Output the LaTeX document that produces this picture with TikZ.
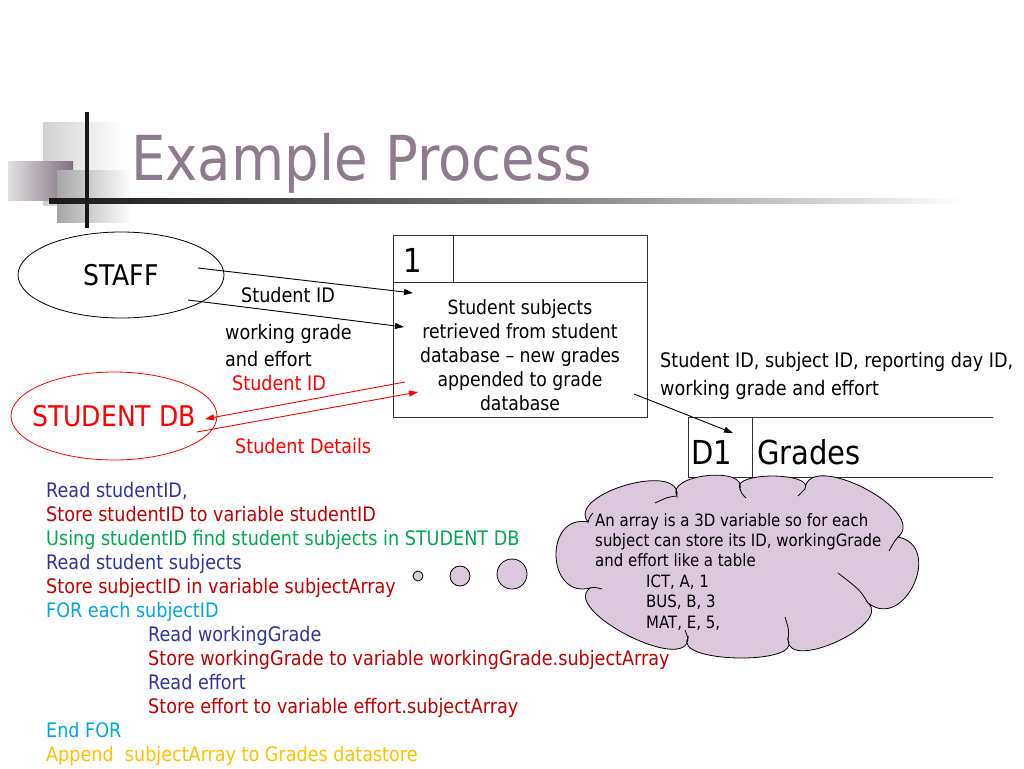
\documentclass[tikz,border=0pt]{standalone}
\usepackage{fontspec}
\setmainfont{DejaVu Sans}[FakeStretch=0.88]
\usetikzlibrary{shapes.geometric,arrows.meta}
\definecolor{titlec}{RGB}{142,123,142}
\definecolor{lilac}{RGB}{220,200,220}
\definecolor{cblue}{RGB}{51,51,153}
\definecolor{cred}{RGB}{192,0,0}
\definecolor{cgreen}{RGB}{0,168,80}
\definecolor{ccyan}{RGB}{0,168,224}
\definecolor{cyell}{RGB}{255,192,0}
\definecolor{dred}{RGB}{255,0,0}
\tikzset{
  lbl/.style={inner sep=0pt, anchor=base west},
  lblfont/.style={font=\fontsize{20}{24}\selectfont},
  arr/.style={-{Triangle[length=9pt,width=6pt]}, line width=0.9pt},
  boxline/.style={line width=1pt, draw=black!80},
  entity/.style={draw, ellipse, minimum width=206, minimum height=86, inner sep=0pt, line width=0.8pt},
  thought/.style={draw, fill=lilac, line width=0.8pt},
  hook/.style={line width=0.8pt},
}
\begin{document}
\begin{tikzpicture}[x=1pt,y=-1pt]
\useasboundingbox (0,0) rectangle (1024,768);
% decoration
\shade[left color=black!18, right color=white] (43,122) rectangle (123,205);
\shade[left color=black!12, right color=titlec!90!black] (8,161) rectangle (73,200);
\shade[left color=black!35, right color=white] (57,170) rectangle (132,222);
\shade[left color=black!90, right color=white, middle color=black!55] (49,198) rectangle (965,203);
\fill[black!90] (85,112) rectangle (89,228);
% title
\node[lbl, text=titlec, font=\fontsize{62}{72}\selectfont] (title) at (131,180) {Example Process};
% external entities
\node[entity, label={[font=\fontsize{28.5}{32}\selectfont]center:STAFF}] (staff) at (121,275) {};
\node[entity, draw=dred, minimum height=88, label={[text=dred, font=\fontsize{28.5}{32}\selectfont]center:STUDENT DB}] (sdb) at (114,416) {};
% process box
\node[boxline, draw, minimum width=254, minimum height=182, inner sep=0] (proc) at (520,326) {};
\coordinate (hl) at (393,282);
\coordinate (hr) at (647,282);
\draw[boxline] (hl) -- (hr);
\draw[boxline] (453,235) -- (453,282);
\node[lbl, font=\fontsize{33}{40}\selectfont] (pnum) at (403,272) {1};
\node[align=center, font=\fontsize{19.6}{24}\selectfont, inner sep=0] (ptext) at (520,355) {Student subjects\\retrieved from student\\database -- new grades\\appended to grade\\database};
% data store
\draw[boxline] (688,417) -- (993,417);
\draw[boxline] (688,477) -- (993,477);
\draw[boxline] (688,417) -- (688,477);
\draw[boxline] (752,417) -- (752,477);
\node[lbl, font=\fontsize{33}{40}\selectfont] (d1) at (691,464) {D1};
\node[lbl, font=\fontsize{33}{40}\selectfont] (grades) at (757,464) {Grades};
\coordinate (d1in) at (733,433);
% flows
\coordinate (s1) at (198,268);
\coordinate (p1) at (413,293);
\coordinate (s2) at (188,300);
\coordinate (p2) at (404,327);
\draw[arr] (s1) -- (p1);
\draw[arr] (s2) -- (p2);
\coordinate (p3) at (405,382);
\coordinate (b1) at (205,419);
\coordinate (b2) at (197,432);
\coordinate (p4) at (418,392);
\draw[arr, color=dred] (p3) -- (b1);
\draw[arr, color=dred] (b2) -- (p4);
\coordinate (p5) at (634,394);
\draw[arr] (p5) -- (d1in);
% labels
\node[lbl, lblfont] (l1) at (241,302) {Student ID};
\node[lbl, lblfont] (l2) at (225,339) {working grade};
\node[lbl, lblfont] (l3) at (225,366) {and effort};
\node[lbl, lblfont, text=dred] (l4) at (232,390) {Student ID};
\node[lbl, lblfont, text=dred] (l5) at (235,453) {Student Details};
\node[lbl, lblfont] (l6) at (660,367) {Student ID, subject ID, reporting day ID,};
\node[lbl, lblfont] (l7) at (660,395) {working grade and effort};
% thought cloud
\draw[thought] (588,522)
  .. controls (565.3,494.2) and (681.1,460.4) .. (677,496)
  .. controls (665,474.6) and (747,465.5) .. (740,489)
  .. controls (730.3,471.7) and (814.8,471.7) .. (805,489)
  .. controls (808.1,448.7) and (929.1,511.1) .. (898,537)
  .. controls (943.7,545.9) and (904.7,631.7) .. (868,603)
  .. controls (892.3,624.1) and (788.3,672.2) .. (788,640)
  .. controls (802.5,665.6) and (672.5,663) .. (688,638)
  .. controls (687.5,675.2) and (560.1,610.2) .. (590,588)
  .. controls (546.3,599.2) and (543.7,513.4) .. (588,522) -- cycle;
% interior strokes of the cloud
\draw[hook] (677,496) .. controls (668,497) .. (655,503);
\draw[hook] (740,489) .. controls (742,494) .. (746,498);
\draw[hook] (805,489) .. controls (802,492) .. (798,496);
\draw[hook] (898,537) .. controls (894,542) .. (889,551);
\draw[hook] (868,603) .. controls (860,590) .. (838,573);
\draw[hook] (788,640) .. controls (789,630) .. (785,617);
\draw[hook] (688,638) .. controls (687,634) .. (685,630);
\draw[hook] (590,588) .. controls (594,587) .. (602,589);
\draw[hook] (588,522) .. controls (589,518) .. (593,513);
\node[thought, circle, minimum size=10, inner sep=0] (c1) at (418,576) {};
\node[thought, circle, minimum size=20, inner sep=0] (c2) at (460,576) {};
\node[thought, circle, minimum size=30, inner sep=0] (c3) at (512,574) {};
\node[anchor=north west, align=left, inner sep=0, font=\fontsize{17}{20.4}\selectfont] (ctext) at (595,513) {An array is a 3D variable so for each\\subject can store its ID, workingGrade\\and effort like a table\\\hspace*{51pt}ICT, A, 1\\\hspace*{51pt}BUS, B, 3\\\hspace*{51pt}MAT, E, 5,};
% pseudocode
\node[anchor=north west, align=left, inner sep=0, font=\fontsize{20}{24}\selectfont] (code) at (46,482) {%
\textcolor{cblue}{Read studentID,}\\
\textcolor{cred}{Store studentID to variable studentID}\\
\textcolor{cgreen}{Using studentID find student subjects in STUDENT DB}\\
\textcolor{cblue}{Read student subjects}\\
\textcolor{cred}{Store subjectID in variable subjectArray}\\
\textcolor{ccyan}{FOR each subjectID}\\
\hspace*{102pt}\textcolor{cblue}{Read workingGrade}\\
\hspace*{102pt}\textcolor{cred}{Store workingGrade to variable workingGrade.subjectArray}\\
\hspace*{102pt}\textcolor{cblue}{Read effort}\\
\hspace*{102pt}\textcolor{cred}{Store effort to variable effort.subjectArray}\\
\textcolor{ccyan}{End FOR}\\
\textcolor{cyell}{Append\ \ subjectArray to Grades datastore}};
\end{tikzpicture}
\end{document}
